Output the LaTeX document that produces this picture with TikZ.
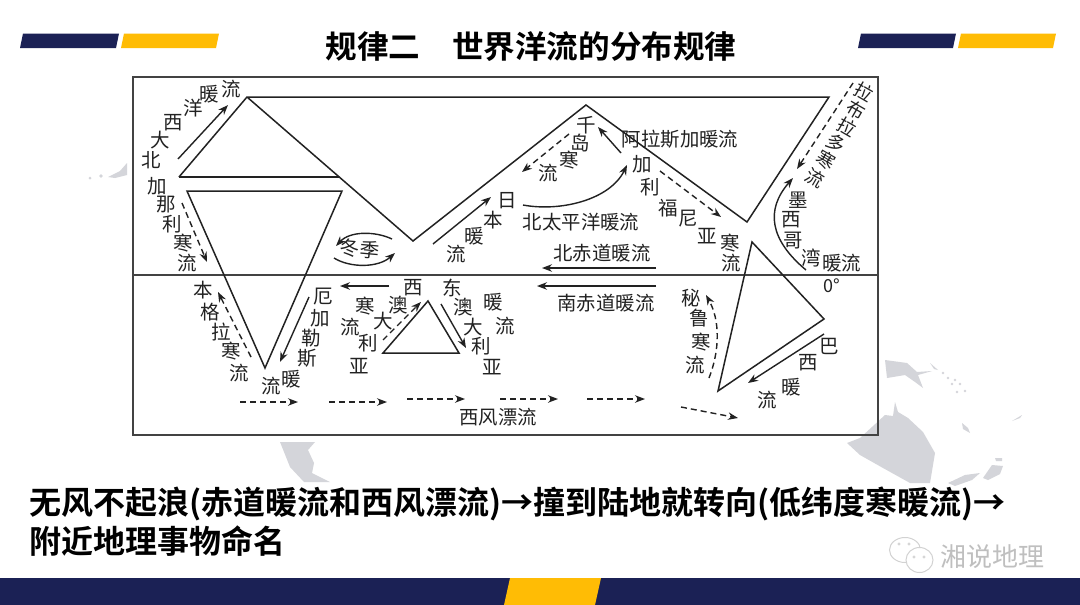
\documentclass[tikz,border=0pt]{standalone}
\usepackage{fontspec}
\setmainfont{Noto Sans CJK SC}[BoldFont={Noto Sans CJK SC Bold}]
\usetikzlibrary{arrows.meta}
\definecolor{navy}{HTML}{1B2155}
\definecolor{gold}{HTML}{FFBC05}
\definecolor{ink}{HTML}{222222}
\definecolor{wm}{HTML}{D4D5DA}
\tikzset{
 land/.style={draw=ink,line width=1.5pt,line join=miter},
 frameline/.style={draw=ink!85,line width=1.7pt},
 cur/.style={draw=ink,line width=1.4pt,-{Stealth[length=10pt,width=7.5pt]}},
 curd/.style={cur,dash pattern=on 6pt off 4pt},
 ch/.style={font=\fontsize{19.5}{19.5}\selectfont,text=ink,inner sep=0pt},
 chr/.style={font=\fontsize{18.5}{18.5}\selectfont,text=ink,inner sep=0pt,rotate=-30},
 lab/.style={font=\fontsize{19.4}{19.4}\selectfont,text=ink,inner sep=0pt},
 body/.style={anchor=west,inner sep=0pt,text=black,font=\bfseries\fontsize{32}{32}\selectfont},
 wmk/.style={fill=wm,draw=none},
 logo/.style={draw=gray!35,line width=1pt,fill=white},
}
\newcommand{\chs}[1]{\foreach \t/\x/\y in {#1}{\node[ch] at (\x,\y) {\t};}}
\begin{document}
\begin{tikzpicture}[x=1pt,y=-1pt]
\useasboundingbox (0,0) rectangle (1080,605);
\fill[white] (0,0) rectangle (1080,605);
% watermark
\fill[wmk] (885,360)--(907,363)--(917,372)--(932,371)--(918,375)--(923,388)--(915,382)--(905,375)--(887,378)--cycle;
\fill[wmk] (930,363)--(938,370)--(934,369)--cycle;
\fill[wmk] (895,402)--(898,412)--(908,418)--(923,432)--(935,453)--(930,483)--(910,483)--(883,468)--(860,455)--(847,443)--(860,438)--(885,415)--(893,416)--cycle;
\fill[wmk] (948,483)--(965,475)--(980,473)--(972,480)--(955,486)--cycle;
\fill[wmk] (983,478)--(992,465)--(1003,466)--(1000,474)--(988,480)--cycle;
\fill[wmk] (995,458)--(1002,458)--(1002,461)--(996,461)--cycle;
\fill[wmk] (962,423)--(968,428)--(970,433)--(963,429)--cycle;
\fill[wmk] (1012,421)--(1022,415)--(1020,418)--cycle;
\foreach \x/\y in {943/373,948/378,955/380,960/384,965/391,957/392,952/384}{\fill[wmk] (\x,\y) circle (1.3);}
\fill[wmk] (280,442)--(315,442)--(308,450)--(314,463)--(312,473)--(330,482)--(304,482)--(290,467)--cycle;
\fill[wmk] (108,177)--(120,171)--(127,163)--(127,175)--(115,178)--cycle;
\fill[wmk] (90,178) circle (1.5) (101,176) circle (1.8);
% header bars
\fill[navy] (23,33.5)--(119,33.5)--(116,48)--(20,48)--cycle;
\fill[gold] (124,33.5)--(219,33.5)--(216,48)--(121,48)--cycle;
\fill[navy] (861,33.5)--(956,33.5)--(953,48)--(858,48)--cycle;
\fill[gold] (961,33.5)--(1056,33.5)--(1053,48)--(958,48)--cycle;
\node[font=\bfseries\fontsize{31.6}{31.6}\selectfont,inner sep=0pt,text=black] (title) at (531,47) {规律二\hspace{1em}世界洋流的分布规律};
% frame
\draw[frameline] (133,77) rectangle (878,435);
\draw[frameline] (133,275) -- (878,275);
% land
\draw[land] (179,177)--(247,97)--(829,97)--(747,222)--(586,105)--(413,241)--(247,97);
\draw[land] (179,177)--(339,177);
\draw[land] (187,191)--(342,191)--(265,368)--cycle;
\draw[land] (752,242)--(824,319)--(718,391)--cycle;
\draw[land] (428,301)--(459,353)--(383,353)--cycle;
% currents
\draw[cur] (178,159)--(228,105);
\draw[curd] (182,203)--(207,262);
\draw[cur] (392,239) .. controls (375,231) and (350,231) .. (336,246);
\draw[cur] (334,258) .. controls (350,268) and (378,268) .. (395,253);
\draw[cur] (433,244)--(491,197);
\draw[curd] (569,134)--(522,172);
\draw[cur] (621,153)--(598,127);
\draw[cur] (523,205) .. controls (560,212) and (610,200) .. (627,165);
\draw[curd] (660,171)--(721,217);
\draw[cur] (656,268)--(542,268);
\draw[cur] (656,286)--(537,286);
\draw[curd] (853,83)--(797,169);
\draw[cur] (806,270) .. controls (770,240) and (765,210) .. (793,178);
\draw[curd] (709,378) .. controls (720,350) and (720,320) .. (706,295);
\draw[cur] (824,334)--(748,383);
\draw[curd] (240,402)--(298,402);
\draw[curd] (329,402)--(387,402);
\draw[curd] (407,399)--(465,399);
\draw[curd] (500,399)--(558,399);
\draw[curd] (587,399)--(645,399);
\draw[curd] (681,407)--(738,418);
\draw[curd] (251,357)--(218,292);
\draw[cur] (309,297)--(280,362);
\draw[cur] (389,286)--(340,286);
\draw[curd] (383,340)--(421,302);
\draw[cur] (441,304)--(466,348);
% labels
\chs{北/151/160,大/160/140,西/173/123,洋/193/108,暖/209/94,流/231/89,
加/157/186,那/166/205,利/172/224,寒/183/243,流/187/263,
千/586/125,岛/580/143,寒/569/160,流/548/173,
日/507/201,本/493/220,暖/474/236,流/456/254,
加/642/164,利/650/187,福/668/208,尼/688/219,亚/707/236,寒/730/243,流/731/263,
墨/798/200,西/791/220,哥/793/241,湾/811/258,暖/832/263,流/851/263,
本/203/290,格/210/312,拉/221/332,寒/231/351,流/239/373,
厄/323/297,加/320/318,勒/311/338,斯/307/358,暖/291/379,流/271/386,
西/413/288,澳/398/305,大/383/321,利/368/343,亚/359/366,寒/365/306,流/350/327,
东/452/288,澳/463/307,大/473/327,利/481/346,亚/492/367,暖/493/302,流/505/326,
秘/691/298,鲁/699/318,寒/701/342,流/695/365,
巴/829/346,西/808/363,暖/791/387,流/767/400}
\foreach \t/\x/\y in {拉/864/92,布/856/110,拉/847/127,多/836/143,寒/826/160,流/815/178}{\node[chr] at (\x,\y) {\t};}
\node[ch,rotate=-5] (winter) at (360,249) {冬季};
\node[lab] (np) at (581,222) {北太平洋暖流};
\node[lab] (ne) at (602,253) {北赤道暖流};
\node[lab] (al) at (680,139) {阿拉斯加暖流};
\node[lab] (se) at (606,303) {南赤道暖流};
\node[lab] (wd) at (498,417) {西风漂流};
\node[ch,font=\fontsize{18}{18}\selectfont] (zero) at (832,286) {0°};
% body text
\node[body] (b1) at (29,504) {无风不起浪(赤道暖流和西风漂流)→撞到陆地就转向(低纬度寒暖流)→};
\node[body] (b2) at (29,541) {附近地理事物命名};
% watermark logo
\draw[logo] (905,550) ellipse (15.5 and 12.5);
\draw[logo] (919.5,560) ellipse (13.5 and 12.5);
\foreach \x/\y in {899/544,909/544,914/557,924/557}{\draw[gray!35,line width=.7pt] (\x,\y) circle (1.2);}
\node[anchor=west,inner sep=0pt,text=gray!50,font=\fontsize{26}{26}\selectfont] (wx) at (940,557) {湘说地理};
% footer
\fill[navy] (0,578) rectangle (1080,605);
\fill[gold] (510,578)--(601,578)--(595,605)--(504,605)--cycle;
\end{tikzpicture}
\end{document}
